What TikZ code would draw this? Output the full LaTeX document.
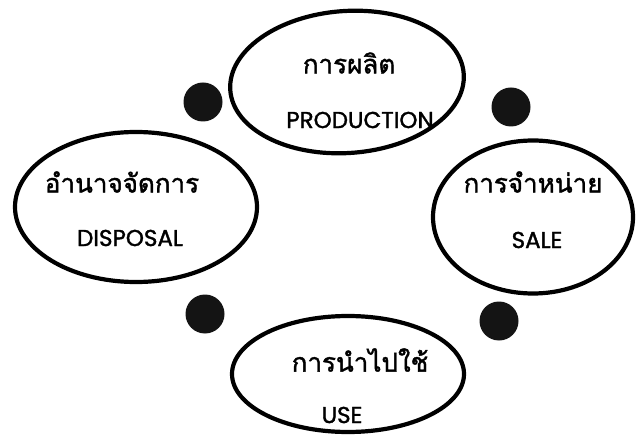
\documentclass[tikz,border=0pt]{standalone}
\usepackage{fontspec}
\usetikzlibrary{shapes.geometric}
\newfontfamily\thaifont[Script=Thai,FakeBold=1.5]{Loma}
\newfontfamily\engfont[FakeBold=1.5]{Poppins}
\tikzset{
  oval/.style={draw=black, line width=4.2pt, ellipse, inner sep=0pt},
  dot/.style={circle, fill=black!92, inner sep=0pt, minimum size=39pt},
  thai/.style={font=\thaifont\fontsize{26}{29}\selectfont, inner sep=0pt},
  eng/.style={font=\engfont\fontsize{23}{26}\selectfont, inner sep=0pt},
}
\begin{document}
\begin{tikzpicture}[x=1pt, y=-1pt]
\useasboundingbox[fill=white] (0,0) rectangle (636,435);
% ellipses
\node[oval, minimum width=234pt, minimum height=142pt, rotate=4] (prod) at (347,82) {};
\node[oval, minimum width=242pt, minimum height=150pt] (disp) at (136,207) {};
\node[oval, minimum width=200pt, minimum height=153pt] (sale) at (533,217) {};
\node[oval, minimum width=232pt, minimum height=116pt] (use) at (348,374) {};
% dots
\node[dot] (d1) at (203,102) {};
\node[dot] (d2) at (511,107) {};
\node[dot] (d3) at (205,314) {};
\node[dot] (d4) at (499,321) {};
% texts
\node[thai] (t1) at (349,63) {การผลิต};
\node[eng] (e1) at (360,120) {PRODUCTION};
\node[thai] (t2) at (122,182) {อำนาจจัดการ};
\node[eng] (e2) at (130,238) {DISPOSAL};
\node[thai] (t3) at (533,182) {การจำหน่าย};
\node[eng] (e3) at (537,240) {SALE};
\node[thai] (t4) at (360,360) {การนำไปใช้};
\node[eng] (e4) at (342,415) {USE};
\end{tikzpicture}
\end{document}
